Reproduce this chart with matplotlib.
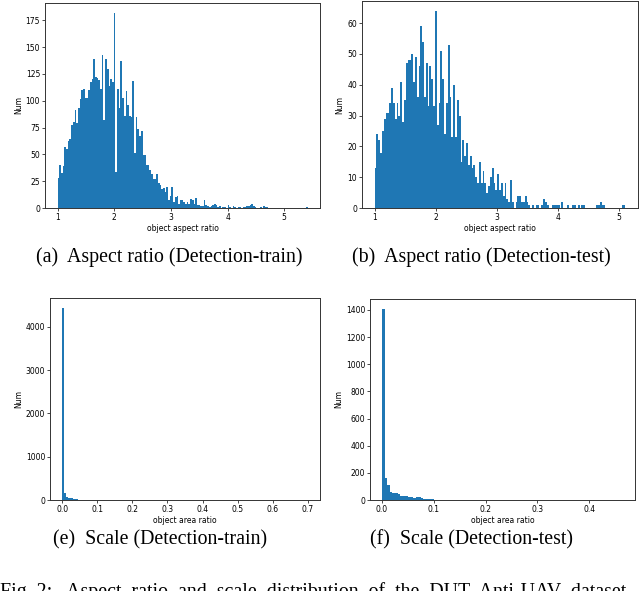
import numpy as np
import matplotlib
matplotlib.use('Agg')
import matplotlib.pyplot as plt

# aspect ratio histograms, bin width 0.03 starting at 1.0
ar_start = 1.0
ar_width = 0.03
ar_train = [
    28, 40, 33, 39, 57, 55, 62, 64, 77, 80, 91, 79, 93, 102, 110, 111, 103, 103, 110, 117,
    120, 139, 122, 121, 119, 111, 143, 82, 139, 130, 114, 120, 117, 182, 34, 111, 93, 137, 103, 86,
    109, 96, 86, 85, 118, 51, 85, 74, 67, 72, 49, 49, 40, 40, 35, 32, 27, 27, 32, 23,
    21, 18, 19, 15, 20, 7, 11, 20, 6, 10, 11, 4, 7, 7, 6, 4, 6, 4, 8, 7,
    4, 9, 3, 3, 2, 2, 7, 3, 2,
    1, 2, 3, 4, 3, 1, 2, 0, 1, 1, 0, 3, 1, 0, 2, 1, 0, 1, 1, 0,
    1, 1, 2, 2, 3, 4, 2, 1, 0, 0, 1, 0, 2, 1, 1, 0, 0, 0, 0, 0,
    0, 0, 0, 0, 0, 0, 0, 0, 0, 0, 0, 0, 0, 0, 0, 0, 0, 1,
]
ar_test = [
    13, 24, 22, 18, 25, 29, 31, 31, 34, 39, 34, 29, 34, 30, 41, 28, 35, 47, 48, 48,
    50, 41, 49, 36, 46, 59, 54, 36, 47, 33, 46, 42, 33, 64, 27, 34, 51, 42, 24, 34,
    53, 36, 23, 40, 23, 35, 30, 15, 22, 17, 21, 14, 17, 13, 14, 10, 8, 15, 8, 12,
    8, 5, 7, 10, 13, 8, 6, 11, 6, 8, 4, 8, 3, 2, 9, 2, 0, 2, 4, 4,
    2, 2, 4, 2, 1,
    0, 1, 0, 1, 1, 0, 1, 3, 2, 1, 0, 0, 1, 1, 1, 1, 0, 2, 0, 0,
    1, 0, 0, 1, 1, 0, 1, 0, 1, 1, 0, 0, 0, 0, 0, 0, 1, 1, 2, 1,
    1, 0, 0, 0, 0, 0, 0, 0, 0, 0, 1, 1,
]

# area ratio histograms, bin width 0.005 starting at 0
sc_start = 0.0
sc_width = 0.005
sc_train = [
    4440, 170, 80, 45, 35, 40, 30, 22, 15, 10, 8, 6, 5, 4, 3, 3, 2, 2, 2, 2,
    1, 2, 1, 1, 1, 2, 1, 1, 1, 1, 0, 1, 1, 0, 1, 1, 0, 1, 0, 1,
    1, 0, 1, 1, 0, 1, 0, 0, 1, 0, 1, 0, 1, 0, 0, 1, 0, 0, 1, 0,
    0, 1, 0, 0, 0, 1, 0, 1, 0, 0, 1, 0, 0, 0, 1, 0, 0, 1, 0, 0,
    0, 1, 0, 0, 0, 0, 1, 0, 0, 0, 1, 0, 0, 0, 0, 1, 0, 0, 0, 0,
    1, 0, 0, 0, 0, 0, 1, 0, 0, 0, 0, 0, 1, 0, 0, 0, 0, 0, 0, 1,
    0, 0, 0, 0, 0, 0, 0, 1, 0, 0, 0, 0, 0, 0, 0, 0, 0, 0, 0, 1,
]
sc_test = [
    1410, 160, 110, 60, 55, 50, 45, 30, 30, 28, 25, 20, 15, 20, 25, 12, 8, 6, 5, 4,
    3, 3, 2, 2, 3, 2, 2, 1, 2, 1, 1, 2, 1, 0, 1, 1, 2, 1, 0, 1,
    1, 0, 1, 1, 0, 0, 1, 0, 1, 0, 0, 1, 0, 0, 0, 1, 0, 0, 1, 0,
    0, 0, 1, 0, 0, 0, 1, 0, 0, 0, 0, 1, 0, 0, 0, 0, 1, 0, 0, 0,
    0, 0, 1, 0, 0, 0, 0, 0, 0, 1, 0, 0, 1,
]

captions = [
    '(a)  Aspect ratio (Detection-train)',
    '(b)  Aspect ratio (Detection-test)',
    '(e)  Scale (Detection-train)',
    '(f)  Scale (Detection-test)',
]
fig_caption = 'Fig. 2:   Aspect  ratio  and  scale  distribution  of  the  DUT  Anti-UAV  dataset'


def draw_hist(ax, start, width, counts, xlabel):
    edges = start + width * np.arange(len(counts) + 1)
    ax.hist(edges[:-1], bins=edges, weights=counts, color='#1f77b4')
    ax.set_xlabel(xlabel, fontsize=5.5, labelpad=1.5)
    ax.set_ylabel('Num', fontsize=5.5, labelpad=2)
    ax.tick_params(labelsize=5.5, length=2, width=0.5, pad=1.5)
    for s in ax.spines.values():
        s.set_linewidth(0.7)
        s.set_edgecolor('#333333')


fig = plt.figure(figsize=(6.4, 5.91), dpi=100)
W, H = 640, 591


def add_ax(l, r, t, b):
    return fig.add_axes([l / W, 1 - b / H, (r - l) / W, (b - t) / H])


ax_a = add_ax(45, 320, 3, 208)
ax_b = add_ax(362, 638, 1, 208)
ax_e = add_ax(50, 320, 298, 500)
ax_f = add_ax(370, 635, 299, 500)

draw_hist(ax_a, ar_start, ar_width, ar_train, 'object aspect ratio')
draw_hist(ax_b, ar_start, ar_width, ar_test, 'object aspect ratio')
draw_hist(ax_e, sc_start, sc_width, sc_train, 'object area ratio')
draw_hist(ax_f, sc_start, sc_width, sc_test, 'object area ratio')

ax_a.set_yticks([0, 25, 50, 75, 100, 125, 150, 175])
ax_b.set_yticks([0, 10, 20, 30, 40, 50, 60])
ax_f.set_yticks([0, 200, 400, 600, 800, 1000, 1200, 1400])

cap_font = dict(family='Liberation Serif', fontsize=14.3, ha='center', va='center')
fig.text(169 / W, 1 - 257 / H, captions[0], **cap_font)
fig.text(481 / W, 1 - 257 / H, captions[1], **cap_font)
fig.text(160 / W, 1 - 540 / H, captions[2], **cap_font)
fig.text(471 / W, 1 - 540 / H, captions[3], **cap_font)
fig.text(0.0, 1 - 597 / H, fig_caption, family='Liberation Serif', fontsize=14.3,
         ha='left', va='baseline')

fig.savefig('out.png', dpi=100)
